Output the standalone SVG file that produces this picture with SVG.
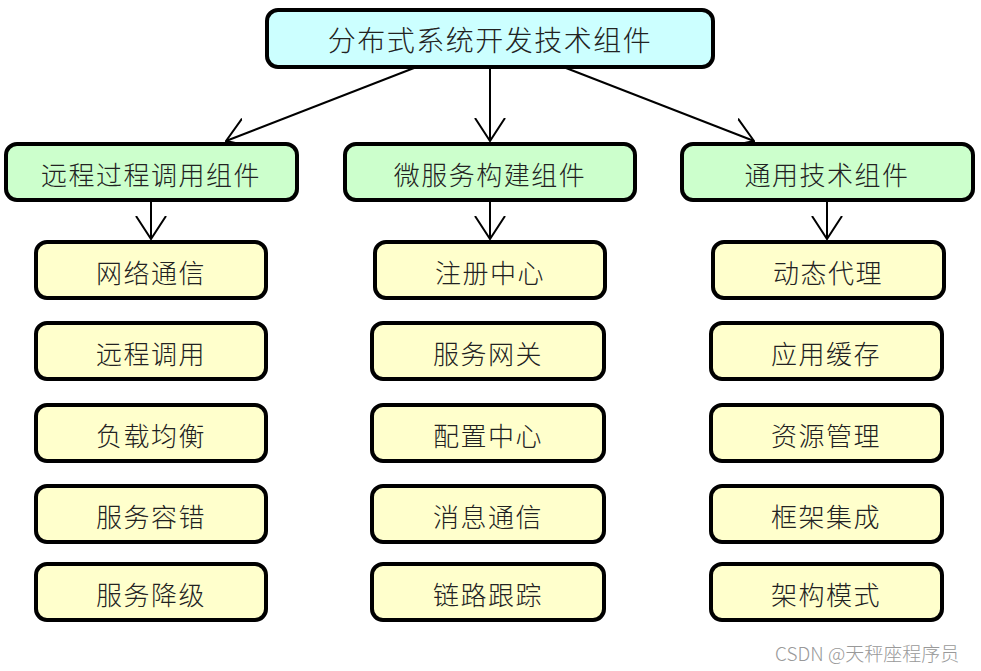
<svg xmlns="http://www.w3.org/2000/svg" width="981" height="671" viewBox="0 0 981 671">
<style>
.box{stroke:#000;stroke-width:4}
.top{fill:#ccffff}
.mid{fill:#ccffcc}
.leaf{fill:#ffffcc}
text{font-family:"Noto Sans CJK SC","Liberation Sans",sans-serif;font-weight:300;fill:#222;text-anchor:middle;dominant-baseline:central}
.t1{font-size:28px;letter-spacing:1.5px}
.t2{font-size:26px;letter-spacing:1.5px}
.wm{font-size:19px;fill:#999;text-anchor:start}
.conn line{stroke:#000;stroke-width:2}
</style>
<defs>
<marker id="arr" viewBox="0 0 24 32" refX="23" refY="16" markerWidth="24" markerHeight="32" markerUnits="userSpaceOnUse" orient="auto">
<path d="M0,1 L23,16 L0,31" fill="none" stroke="#000" stroke-width="2"/>
</marker>
</defs>
<rect width="981" height="671" fill="#fff"/>
<g class="conn">
<line x1="414" y1="68" x2="226" y2="141" marker-end="url(#arr)"/>
<line x1="490" y1="68" x2="490" y2="141" marker-end="url(#arr)"/>
<line x1="566" y1="68" x2="754" y2="141" marker-end="url(#arr)"/>
<line x1="151" y1="201" x2="151" y2="239" marker-end="url(#arr)"/>
<line x1="490" y1="201" x2="490" y2="239" marker-end="url(#arr)"/>
<line x1="827" y1="201" x2="827" y2="239" marker-end="url(#arr)"/>
</g>
<g id="root"><rect class="box top" x="267" y="10" width="446" height="57" rx="11"/><text class="t1" x="490" y="39">分布式系统开发技术组件</text></g>
<g id="rpc"><rect class="box mid" x="6" y="144" width="291" height="56" rx="11"/><text class="t2" x="151" y="173">远程过程调用组件</text></g>
<g id="micro"><rect class="box mid" x="345" y="144" width="290" height="56" rx="11"/><text class="t2" x="490" y="173">微服务构建组件</text></g>
<g id="common"><rect class="box mid" x="682" y="144" width="291" height="56" rx="11"/><text class="t2" x="827" y="173">通用技术组件</text></g>
<g id="l1"><rect class="box leaf" x="36" y="242" width="230" height="56" rx="11"/><text class="t2" x="151" y="271">网络通信</text></g>
<g id="l2"><rect class="box leaf" x="36" y="323" width="230" height="56" rx="11"/><text class="t2" x="151" y="352">远程调用</text></g>
<g id="l3"><rect class="box leaf" x="36" y="405" width="230" height="56" rx="11"/><text class="t2" x="151" y="434">负载均衡</text></g>
<g id="l4"><rect class="box leaf" x="36" y="486" width="230" height="56" rx="11"/><text class="t2" x="151" y="515">服务容错</text></g>
<g id="l5"><rect class="box leaf" x="36" y="564" width="230" height="56" rx="11"/><text class="t2" x="151" y="593">服务降级</text></g>
<g id="m1"><rect class="box leaf" x="375" y="242" width="230" height="56" rx="11"/><text class="t2" x="490" y="271">注册中心</text></g>
<g id="m2"><rect class="box leaf" x="372" y="323" width="232" height="56" rx="11"/><text class="t2" x="488" y="352">服务网关</text></g>
<g id="m3"><rect class="box leaf" x="372" y="405" width="232" height="56" rx="11"/><text class="t2" x="488" y="434">配置中心</text></g>
<g id="m4"><rect class="box leaf" x="372" y="486" width="232" height="56" rx="11"/><text class="t2" x="488" y="515">消息通信</text></g>
<g id="m5"><rect class="box leaf" x="372" y="564" width="232" height="56" rx="11"/><text class="t2" x="488" y="593">链路跟踪</text></g>
<g id="r1"><rect class="box leaf" x="713" y="242" width="231" height="56" rx="11"/><text class="t2" x="828" y="271">动态代理</text></g>
<g id="r2"><rect class="box leaf" x="711" y="323" width="231" height="56" rx="11"/><text class="t2" x="826" y="352">应用缓存</text></g>
<g id="r3"><rect class="box leaf" x="711" y="405" width="231" height="56" rx="11"/><text class="t2" x="826" y="434">资源管理</text></g>
<g id="r4"><rect class="box leaf" x="711" y="486" width="231" height="56" rx="11"/><text class="t2" x="826" y="515">框架集成</text></g>
<g id="r5"><rect class="box leaf" x="711" y="564" width="231" height="56" rx="11"/><text class="t2" x="826" y="593">架构模式</text></g>
<text class="wm" x="775" y="652">CSDN @天秤座程序员</text>
</svg>
